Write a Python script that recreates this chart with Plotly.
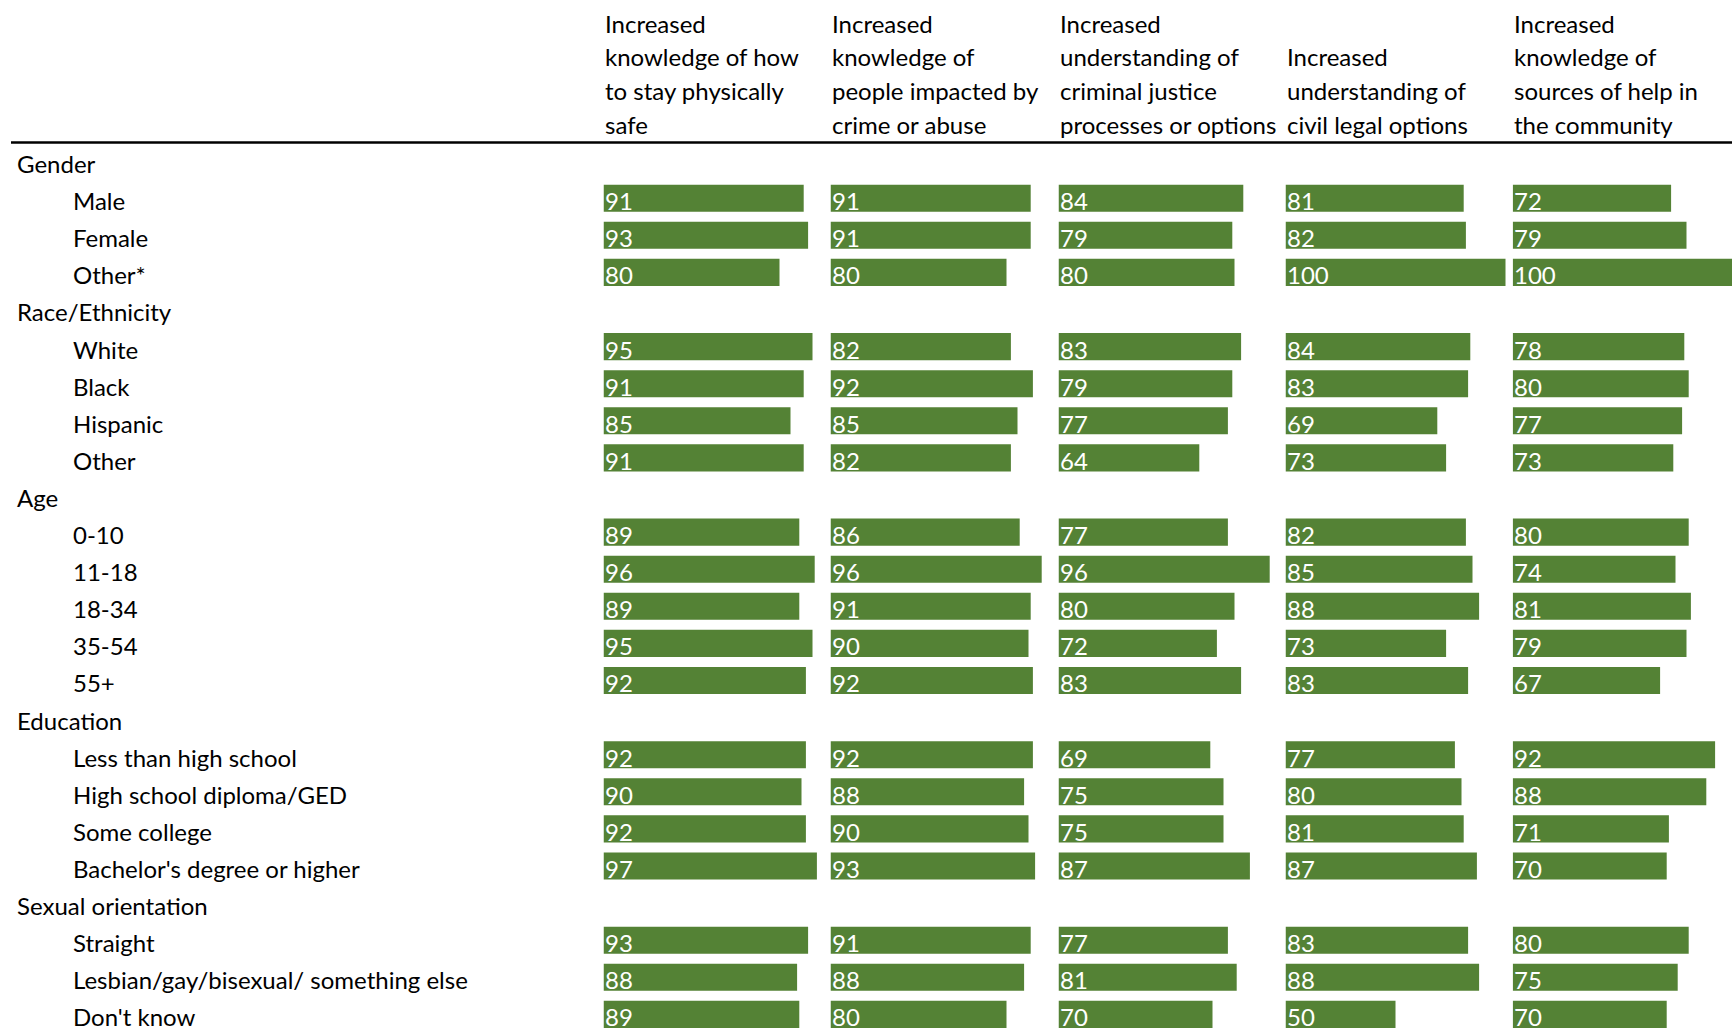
import plotly.graph_objects as go

# ---- data -------------------------------------------------------------
groups = ["Gender", "Race/Ethnicity", "Age", "Education", "Sexual orientation"]
group_items = [
    ["Male", "Female", "Other*"],
    ["White", "Black", "Hispanic", "Other"],
    ["0-10", "11-18", "18-34", "35-54", "55+"],
    ["Less than high school", "High school diploma/GED", "Some college",
     "Bachelor's degree or higher"],
    ["Straight", "Lesbian/gay/bisexual/ something else", "Don't know"],
]

measure_headers = [
    ["Increased", "knowledge of how", "to stay physically", "safe"],
    ["Increased", "knowledge of", "people impacted by", "crime or abuse"],
    ["Increased", "understanding of", "criminal justice", "processes or options"],
    ["Increased", "understanding of", "civil legal options"],
    ["Increased", "knowledge of", "sources of help in", "the community"],
]

physically_safe = [91, 93, 80, 95, 91, 85, 91, 89, 96, 89, 95, 92, 92, 90, 92, 97, 93, 88, 89]
people_impacted = [91, 91, 80, 82, 92, 85, 82, 86, 96, 91, 90, 92, 92, 88, 90, 93, 91, 88, 80]
criminal_justice = [84, 79, 80, 83, 79, 77, 64, 77, 96, 80, 72, 83, 69, 75, 75, 87, 77, 81, 70]
civil_legal = [81, 82, 100, 84, 83, 69, 73, 82, 85, 88, 73, 83, 77, 80, 81, 87, 83, 88, 50]
sources_of_help = [72, 79, 100, 78, 80, 77, 73, 80, 74, 81, 79, 67, 92, 88, 71, 70, 80, 75, 70]

series = [physically_safe, people_impacted, criminal_justice, civil_legal, sources_of_help]

# ---- layout constants --------------------------------------------------
W, H = 1732, 1031
FONT = "Lato"
FS = 24
GREEN = "#548235"
PX_PER_UNIT = 2.2
col_starts = [603.5, 830.5, 1058.5, 1285.5, 1512.7]
col_width = 224
row0_px, row_step = 163.5, 37.1
header_rows_px = [23.2, 56.3, 90.6, 124.8]
rule_px = 142.5

# row index of every label (group headers and items)
group_rows, item_rows, item_labels = [], [], []
r = 0
for g, items in zip(groups, group_items):
    group_rows.append(r)
    r += 1
    for it in items:
        item_rows.append(r)
        item_labels.append(it)
        r += 1

fig = go.Figure()
annotations = []

bar_h = 0.73
bar_shift = 0.065
for k, vals in enumerate(series):
    xname = "x" if k == 0 else f"x{k+1}"
    fig.add_trace(go.Bar(
        x=vals, y=item_rows, orientation="h",
        xaxis=xname, yaxis="y",
        marker=dict(color=GREEN, line=dict(width=0)),
        width=bar_h, offset=-bar_h / 2 - bar_shift,
        hoverinfo="skip", showlegend=False,
    ))
    for v, rr in zip(vals, item_rows):
        annotations.append(dict(
            xref=xname, yref="y", x=0, y=rr, text=str(v),
            xanchor="left", yanchor="middle", showarrow=False,
            font=dict(family=FONT, size=FS, color="white"), xshift=-1,
        ))

    start = col_starts[k]
    end = min(start + col_width, W)
    axis = dict(domain=[start / W, end / W], range=[0, (end - start) / PX_PER_UNIT],
                visible=False, fixedrange=True, anchor="y")
    fig.layout["xaxis" if k == 0 else f"xaxis{k+1}"] = axis

    # column header, bottom aligned
    lines = measure_headers[k]
    offset = len(header_rows_px) - len(lines)
    for j, line in enumerate(lines):
        annotations.append(dict(
            xref="paper", yref="paper", x=start / W, y=1 - header_rows_px[offset + j] / H,
            text=line, xanchor="left", yanchor="middle", showarrow=False,
            font=dict(family=FONT, size=FS, color="black"), xshift=-1,
        ))

# row labels
for g, rr in zip(groups, group_rows):
    annotations.append(dict(
        xref="paper", yref="y", x=16.6 / W, y=rr, text=g,
        xanchor="left", yanchor="middle", showarrow=False,
        font=dict(family=FONT, size=FS, color="black"), xshift=-2,
    ))
for lab, rr in zip(item_labels, item_rows):
    annotations.append(dict(
        xref="paper", yref="y", x=73 / W, y=rr, text=lab,
        xanchor="left", yanchor="middle", showarrow=False,
        font=dict(family=FONT, size=FS, color="black"), xshift=-2,
    ))

y_top = -row0_px / row_step
y_bot = (H - row0_px) / row_step

fig.update_layout(
    width=W, height=H, autosize=False,
    margin=dict(l=0, r=0, t=0, b=0, pad=0),
    paper_bgcolor="white", plot_bgcolor="white",
    yaxis=dict(domain=[0, 1], range=[y_bot, y_top], visible=False, fixedrange=True),
    annotations=annotations,
    shapes=[dict(type="line", xref="paper", yref="paper",
                 x0=11 / W, x1=1, y0=1 - rule_px / H, y1=1 - rule_px / H,
                 line=dict(color="black", width=2.5))],
    barmode="overlay",
    font=dict(family=FONT, size=FS, color="black"),
)

fig.write_html("out.html", config={"displayModeBar": False})
